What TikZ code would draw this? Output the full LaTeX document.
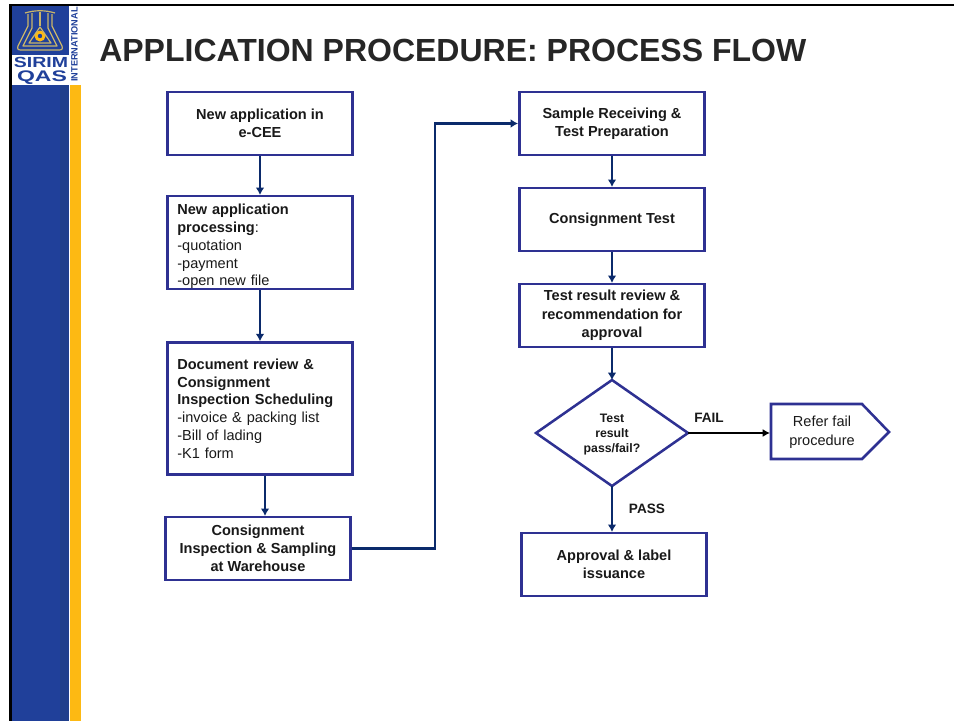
\documentclass[tikz,border=0pt]{standalone}
\usepackage{fontspec}
\setmainfont{Liberation Sans}
\usetikzlibrary{arrows.meta,shapes.geometric,shapes.arrows}
\definecolor{boxblue}{HTML}{2E3192}
\definecolor{linkblue}{HTML}{0B2A6B}
\definecolor{sideblue}{HTML}{20409A}
\definecolor{sidedark}{HTML}{1F3F8C}
\definecolor{sideyellow}{HTML}{FDB913}
\definecolor{flask}{HTML}{C9B56A}
\tikzset{
  stepbox/.style={draw=boxblue,line width=1.9pt,fill=white,minimum width=139pt,minimum height=47pt,inner sep=0pt,align=center,font=\fontsize{10.9pt}{13.7pt}\selectfont\bfseries,text=black!90},
  leftbox/.style={stepbox,align=left,font=\fontsize{10.9pt}{13.3pt}\selectfont,text width=124pt},
  link/.style={draw=linkblue,line width=1.7pt,-{Latex[length=5.5pt,width=6.5pt]}},
  faillink/.style={draw=black,line width=1.6pt,-{Latex[length=5.5pt,width=6pt]}},
  lab/.style={font=\fontsize{10.2pt}{12pt}\selectfont\bfseries,text=black!90,inner sep=0pt},
  flaskline/.style={draw=flask,line join=round,line width=0.9pt},
}
\begin{document}
\begin{tikzpicture}[x=0.75pt,y=-0.75pt]
\useasboundingbox (0,0) rectangle (954,721);
% frame and side band
\fill[sideblue] (11,5) rectangle (68,721);
\fill[sidedark] (60,85) rectangle (69,721);
\fill[sideyellow] (70,85) rectangle (81,721);
\fill[white] (12,6) rectangle (80,85);
\fill[sideblue] (12,6) rectangle (69,55);
\fill[black] (9,3.5) rectangle (954,6);
\fill[black] (9,3.5) rectangle (11.5,721);
% logo
\draw[flaskline] (28,14) -- (28,26) -- (18,46) .. controls (17,49) and (18,50) .. (21,50) -- (59,50) .. controls (62,50) and (63,49) .. (62,46) -- (52,26) -- (52,14);
\draw[flaskline] (32,13) -- (32,28) -- (23,46) -- (57,46) -- (48,28) -- (48,13);
\draw[flaskline] (25,13) .. controls (35,10) and (45,10) .. (55,13);
\draw[flaskline] (40,12) -- (40,26);
\fill[sideyellow] (40,36) circle (5.5);
\fill[sideblue] (40,36) circle (2.2);
\draw[flaskline] (29,43) -- (40,27) -- (51,43) -- cycle;
\node[inner sep=0pt,text=sideblue,font=\fontsize{11pt}{11pt}\selectfont\bfseries] (sirim) at (41,62.5) {\scalebox{1.33}[1]{SIRIM}};
\node[inner sep=0pt,text=sideblue,font=\fontsize{11.5pt}{11.5pt}\selectfont\bfseries] (qas) at (42,78) {\scalebox{1.5}[1]{QAS}};
\node[inner sep=0pt,rotate=90,text=sideblue,font=\fontsize{6.9pt}{7pt}\selectfont\bfseries] (intl) at (74.5,44.5) {INTERNATIONAL};
% title
\node[inner sep=0pt,anchor=west,font=\fontsize{24pt}{28pt}\selectfont\bfseries,text=black!85] (title) at (99,50) {APPLICATION PROCEDURE: PROCESS FLOW};
% left column
\node[stepbox] (b1) at (260,123.5) {New application in\\e-CEE};
\node[leftbox,minimum height=69pt] (b2) at (260,242.5) {\rule{0pt}{14pt}\textbf{New application}\\\textbf{processing}:\\-quotation\\-payment\\-open new file};
\node[leftbox,minimum height=99pt] (b3) at (260,408.5) {\textbf{Document review \&}\\\textbf{Consignment}\\\textbf{Inspection Scheduling}\\-invoice \& packing list\\-Bill of lading\\-K1 form};
\node[stepbox] (b4) at (258,548.5) {Consignment\\Inspection \& Sampling\\at Warehouse};
% right column
\node[stepbox] (r1) at (612,123.5) {Sample Receiving \&\\Test Preparation};
\node[stepbox] (r2) at (612,219.5) {Consignment Test};
\node[stepbox] (r3) at (612,315.5) {Test result review \&\\recommendation for\\approval};
\draw[boxblue,line width=1.9pt,line join=miter] (612,380) -- (688,433) -- (612,486) -- (536,433) -- cycle;
\coordinate (dtop) at (612,380);
\coordinate (dright) at (688,433);
\coordinate (dbot) at (612,486);
\node[inner sep=0pt,align=center,font=\fontsize{9.2pt}{11.5pt}\selectfont\bfseries,text=black!90] (dec) at (612,434.5) {Test\\result\\pass/fail?};
\node[stepbox] (r4) at (614,564.5) {Approval \& label\\issuance};
% off-page
\draw[boxblue,line width=1.9pt,line join=miter] (771,404) -- (862,404) -- (889,432) -- (862,459) -- (771,459) -- cycle;
\coordinate (pleft) at (770,433);
\coordinate (bend) at (435,124);
\node[inner sep=0pt,align=center,font=\fontsize{10.9pt}{14pt}\selectfont,text=black!90] (fail) at (822,432.5) {Refer fail\\procedure};
% connectors
\draw[link] (b1.south) -- (b2.north);
\draw[link] (b2.south) -- (b3.north);
\draw[link] ([xshift=3.75pt]b3.south) -- ([xshift=5.25pt]b4.north);
\draw[link] (b4.east) -| (bend |- r1.west) -- (r1.west);
\draw[link] (r1.south) -- (r2.north);
\draw[link] (r2.south) -- (r3.north);
\draw[link] (r3.south) -- (dtop);
\draw[faillink] (dright) -- (pleft);
\draw[link] (dbot) -- ([xshift=-1.5pt]r4.north);
\node[lab] (lfail) at (709,417.5) {FAIL};
\node[lab] (lpass) at (647,509) {PASS};
\end{tikzpicture}
\end{document}
